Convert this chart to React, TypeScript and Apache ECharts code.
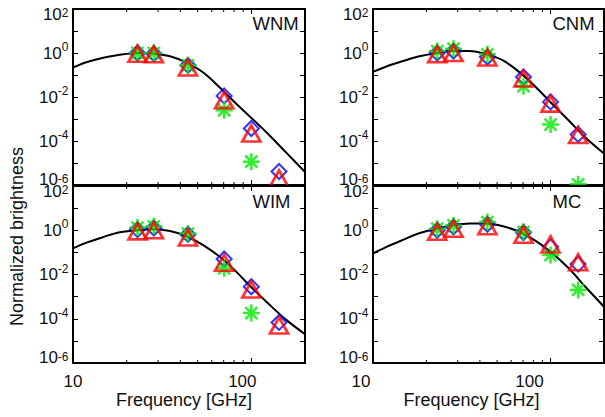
import { useEffect, useRef } from 'react';
import * as echarts from 'echarts';

const FONT = '"Liberation Sans", Arial, Helvetica, sans-serif';
const INK = '#000';

const X_MIN = 10;
const X_MAX = 200;
const Y_MIN = 1e-6;
const Y_MAX = 1e2;

// Band centres (GHz) of the three estimates
const BAND_FREQ = [23, 28.4, 44.1, 70.4, 100, 143];
// Frequencies at which the model curve is tabulated (GHz)
const CURVE_FREQ = [10, 12, 15, 18, 23, 28, 35, 43, 54, 67, 82, 100, 127, 157, 200];
// Unlabelled ticks between decades on the frequency axis
const MINOR_TICK_FREQ = [20, 30, 40, 50, 60, 70, 80, 90];
const X_TICK_LABELS = ['10', '100'];
const Y_TICK_EXPONENTS = [2, 0, -2, -4, -6];

const PANEL_NAMES = ['WNM', 'CNM', 'WIM', 'MC'];
const X_TITLE = 'Frequency [GHz]';
const Y_TITLE = 'Normalized brightness';

const WNM_CURVE = [0.219, 0.389, 0.631, 0.813, 1.0, 0.955, 0.708, 0.372, 0.126, 0.0257, 5.1e-3, 1.12e-3, 1.74e-4, 2.95e-5, 3.9e-6];
const WNM_DIAMOND = [1.0, 0.933, 0.275, 0.0112, 3.7e-4, 4.1e-6];
const WNM_TRIANGLE = [0.933, 0.871, 0.219, 7.2e-3, 2.2e-4, 2.0e-6];
const WNM_ASTERISK = [1.0, 1.0, 0.275, 2.5e-3, 1.15e-5, null];

const CNM_CURVE = [0.138, 0.251, 0.447, 0.692, 1.0, 1.23, 1.23, 0.912, 0.457, 0.132, 0.0302, 5.75e-3, 8.3e-4, 1.45e-4, 2.7e-5];
const CNM_DIAMOND = [1.0, 1.23, 0.66, 0.081, 6.0e-3, 2.0e-4];
const CNM_TRIANGLE = [0.871, 1.0, 0.62, 0.069, 5.0e-3, 1.86e-4];
const CNM_ASTERISK = [1.23, 1.58, 0.871, 0.031, 5.6e-4, 1.07e-6];

const WIM_CURVE = [0.151, 0.282, 0.513, 0.794, 1.0, 1.1, 0.933, 0.55, 0.209, 0.0603, 0.0138, 2.63e-3, 4.17e-4, 8.9e-5, 2.0e-5];
const WIM_DIAMOND = [1.07, 1.26, 0.65, 0.05, 2.8e-3, 6.8e-5];
const WIM_TRIANGLE = [0.89, 1.0, 0.47, 0.034, 2.1e-3, 5.0e-5];
const WIM_ASTERISK = [1.32, 1.51, 0.71, 0.019, 1.8e-4, null];

const MC_CURVE = [0.089, 0.182, 0.389, 0.708, 1.2, 1.66, 2.0, 2.0, 1.51, 0.832, 0.339, 0.107, 0.0186, 2.8e-3, 3.5e-4];
const MC_DIAMOND = [1.0, 1.41, 1.86, 0.79, 0.178, 0.0295];
const MC_TRIANGLE = [0.85, 1.17, 1.51, 0.63, 0.229, 0.0355];
const MC_ASTERISK = [1.17, 1.66, 2.34, 0.85, 0.076, 2.0e-3];

const PANELS = [
  { name: PANEL_NAMES[0], curve: WNM_CURVE, diamond: WNM_DIAMOND, triangle: WNM_TRIANGLE, asterisk: WNM_ASTERISK },
  { name: PANEL_NAMES[1], curve: CNM_CURVE, diamond: CNM_DIAMOND, triangle: CNM_TRIANGLE, asterisk: CNM_ASTERISK },
  { name: PANEL_NAMES[2], curve: WIM_CURVE, diamond: WIM_DIAMOND, triangle: WIM_TRIANGLE, asterisk: WIM_ASTERISK },
  { name: PANEL_NAMES[3], curve: MC_CURVE, diamond: MC_DIAMOND, triangle: MC_TRIANGLE, asterisk: MC_ASTERISK },
];

// Plot-box geometry (px)
const COL_LEFT = [73, 373];
const COL_WIDTH = [232, 231];
const ROW_TOP = [9, 186];
const ROW_HEIGHT = [176, 177];
// Right padding for the "10" / "100" tick labels of each column
const X_LABEL_PAD = [
  [0, 18],
  [24, 42],
];

const ASTERISK = 'path://M0,-10L0,10M-10,0L10,0M-7.07,-7.07L7.07,7.07M-7.07,7.07L7.07,-7.07';

const pairs = (xs: number[], ys: (number | null)[]) =>
  xs.map((x, k) => [x, ys[k]]).filter((d) => d[1] != null);

// The end labels of the brightness axis are nudged inwards (top one down,
// bottom one up); the exponent is a raised, smaller token.
const yLabel = (v: number) => {
  const e = Math.round(Math.log10(v));
  if (!Y_TICK_EXPONENTS.includes(e)) return '';
  const tag = e === Y_TICK_EXPONENTS[0] ? 'd' : e === Y_TICK_EXPONENTS[Y_TICK_EXPONENTS.length - 1] ? 'u' : 'n';
  return `{b${tag}|10}{s${tag}|${e}}`;
};

const xLabel = (v: number) => {
  const lg = Math.log10(v);
  const e = Math.round(lg);
  if (Math.abs(lg - e) > 1e-6) return '';
  const k = e - 1;
  if (k < 0 || k >= X_TICK_LABELS.length) return '';
  return `{t${k}|${X_TICK_LABELS[k]}}`;
};

function buildOption() {
  const grid: any[] = [];
  const xAxis: any[] = [];
  const yAxis: any[] = [];
  const series: any[] = [];
  const graphic: any[] = [];

  const base = { fontSize: 17, fontFamily: FONT, color: '#111', lineHeight: 24, verticalAlign: 'middle' };
  const sup = { fontSize: 12, fontFamily: FONT, color: '#111', lineHeight: 12, verticalAlign: 'top' };
  const yRich = {
    bn: { ...base },
    sn: { ...sup },
    bd: { ...base, padding: [10, 0, 0, 0] },
    sd: { ...sup, padding: [10, 0, 0, 0] },
    bu: { ...base, padding: [0, 0, 11, 0] },
    su: { ...sup },
  };

  PANELS.forEach((p, i) => {
    const row = Math.floor(i / 2);
    const col = i % 2;
    const lower = row === 1;
    // lower panels sit above the upper ones so that markers spilling over
    // the shared edge are hidden behind their white plot area
    const zBase = lower ? 5 : 0;

    grid.push({
      left: COL_LEFT[col],
      top: ROW_TOP[row],
      width: COL_WIDTH[col],
      height: ROW_HEIGHT[row],
      containLabel: false,
      outerBoundsMode: 'none',
      show: lower,
      backgroundColor: '#fff',
      borderWidth: 0,
      z: lower ? 5 : 0,
    });

    const axisLine = { show: true, onZero: false, lineStyle: { color: INK, width: 2 } };
    const axisTick = { show: true, inside: true, length: 5, lineStyle: { color: INK, width: 1 } };
    const baseX = {
      type: 'log',
      logBase: 10,
      gridIndex: i,
      min: X_MIN,
      max: X_MAX,
      interval: 1,
      axisLine,
      axisTick,
      minorTick: { show: false },
      splitLine: { show: false },
      z: zBase + 1,
    };
    const xText = { fontSize: 17, fontFamily: FONT, color: '#111', lineHeight: 17 };
    xAxis.push({
      ...baseX,
      position: 'bottom',
      axisLabel: lower
        ? {
            show: true,
            margin: 10,
            showMaxLabel: false,
            showMinLabel: true,
            formatter: xLabel,
            rich: {
              t0: { ...xText, padding: [0, X_LABEL_PAD[col][0], 0, 0] },
              t1: { ...xText, padding: [0, X_LABEL_PAD[col][1], 0, 0] },
            },
          }
        : { show: false },
    });
    xAxis.push({ ...baseX, position: 'top', axisLabel: { show: false } });

    const baseY = {
      type: 'log',
      logBase: 10,
      gridIndex: i,
      min: Y_MIN,
      max: Y_MAX,
      interval: 1,
      axisLine,
      axisTick,
      minorTick: { show: false },
      splitLine: { show: false },
      z: zBase + 1,
    };
    yAxis.push({
      ...baseY,
      position: 'left',
      axisLabel: {
        show: true,
        margin: 4.5,
        showMinLabel: true,
        showMaxLabel: true,
        formatter: yLabel,
        rich: yRich,
      },
    });
    yAxis.push({ ...baseY, position: 'right', axisLabel: { show: false } });

    const ax = { xAxisIndex: 2 * i, yAxisIndex: 2 * i };
    series.push({
      ...ax,
      type: 'line',
      data: pairs(CURVE_FREQ, p.curve),
      showSymbol: false,
      smooth: 0.3,
      silent: true,
      lineStyle: { color: INK, width: 2 },
      z: zBase + 2,
    });
    series.push({
      ...ax,
      type: 'scatter',
      symbol: 'diamond',
      symbolSize: 15,
      data: pairs(BAND_FREQ, p.diamond),
      itemStyle: { color: 'rgba(0,0,0,0)', borderColor: '#0000ff', borderWidth: 2 },
      silent: true,
      z: zBase + 3,
    });
    series.push({
      ...ax,
      type: 'scatter',
      symbol: ASTERISK,
      symbolSize: 17,
      data: pairs(BAND_FREQ, p.asterisk),
      itemStyle: { color: 'rgba(0,0,0,0)', borderColor: '#00e800', borderWidth: 2.5 },
      silent: true,
      z: zBase + 3,
    });
    series.push({
      ...ax,
      type: 'scatter',
      symbol: 'triangle',
      symbolSize: [18, 16],
      data: pairs(BAND_FREQ, p.triangle),
      itemStyle: { color: 'rgba(0,0,0,0)', borderColor: '#ff0000', borderWidth: 2.7 },
      silent: true,
      z: zBase + 3,
    });
    series.push({
      ...ax,
      type: 'custom',
      silent: true,
      z: zBase + 4,
      data: MINOR_TICK_FREQ.map((f) => [f, 1]),
      renderItem: (_params: any, api: any) => {
        const f = api.value(0);
        const b = api.coord([f, Y_MIN]);
        const t = api.coord([f, Y_MAX]);
        const style = { stroke: INK, lineWidth: 1 };
        return {
          type: 'group',
          children: [
            { type: 'line', shape: { x1: b[0], y1: b[1], x2: b[0], y2: b[1] - 3 }, style },
            { type: 'line', shape: { x1: t[0], y1: t[1], x2: t[0], y2: t[1] + 3 }, style },
          ],
        };
      },
    });

    graphic.push({
      type: 'text',
      z: 20,
      x: COL_LEFT[col] + 179.5,
      y: ROW_TOP[row] + (lower ? 15.7 : 14.5),
      style: {
        text: p.name,
        font: `18.5px ${FONT}`,
        fill: '#111',
        align: 'left',
        verticalAlign: 'middle',
      },
    });
  });

  [184, 471.5].forEach((cx) => {
    graphic.push({
      type: 'text',
      z: 20,
      x: cx,
      y: 399.5,
      style: { text: X_TITLE, font: `18px ${FONT}`, fill: '#111', align: 'center', verticalAlign: 'middle' },
    });
  });
  graphic.push({
    type: 'text',
    z: 20,
    x: 17,
    y: 236.5,
    rotation: Math.PI / 2,
    style: { text: Y_TITLE, font: `18px ${FONT}`, fill: '#111', align: 'center', verticalAlign: 'middle' },
  });

  return {
    animation: false,
    backgroundColor: '#fff',
    grid,
    xAxis,
    yAxis,
    series,
    graphic,
  };
}

export default function App() {
  const ref = useRef<HTMLDivElement>(null);
  useEffect(() => {
    if (!ref.current) return;
    const chart = echarts.init(ref.current, undefined, { renderer: 'svg' });
    chart.setOption(buildOption() as any);
    return () => chart.dispose();
  }, []);
  return (
    <div
      ref={ref}
      style={{ position: 'fixed', left: 0, top: 0, width: 605, height: 417, background: '#fff' }}
    />
  );
}
